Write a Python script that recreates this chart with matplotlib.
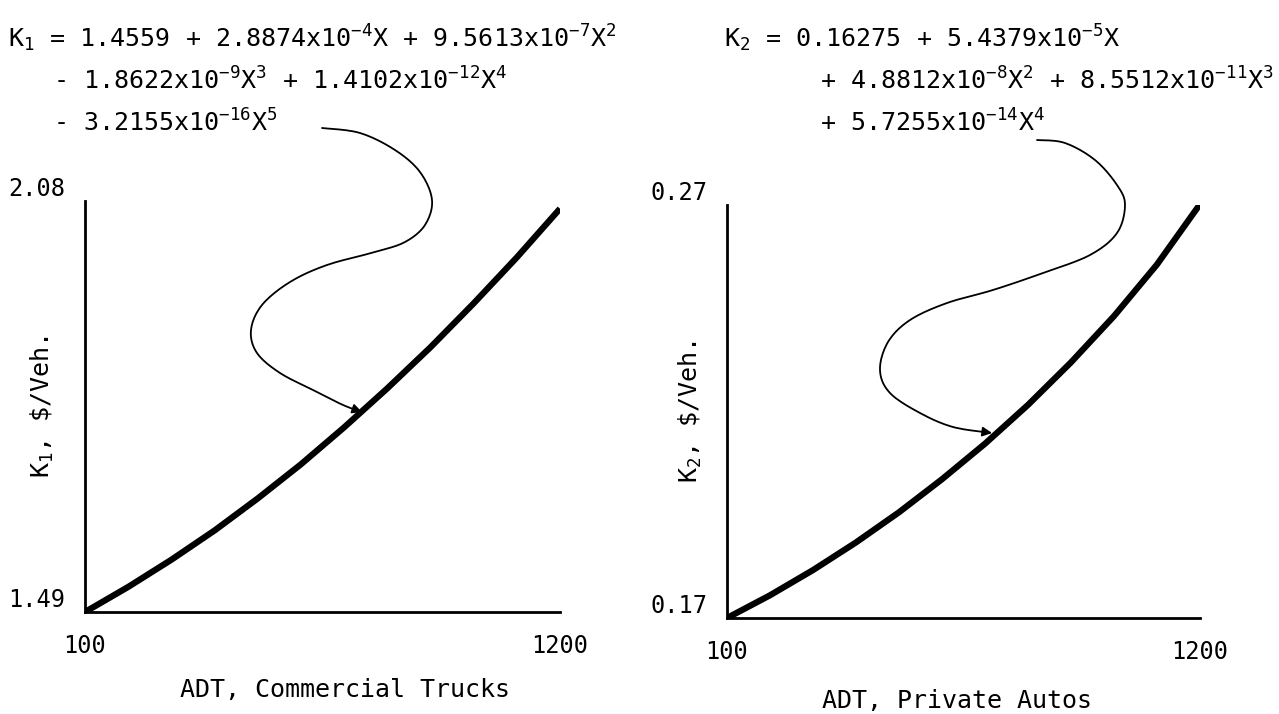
import numpy as np
import matplotlib
matplotlib.use("Agg")
import matplotlib.pyplot as plt
from matplotlib.patches import FancyArrowPatch
from matplotlib.path import Path

# values
adt_trucks = [100, 200, 300, 400, 500, 600, 700, 800, 900, 1000, 1100, 1200]
k1_values = [1.490, 1.526, 1.565, 1.607, 1.653, 1.702, 1.755, 1.811, 1.870, 1.933, 1.999, 2.069]

adt_autos = [100, 200, 300, 400, 500, 600, 700, 800, 900, 1000, 1100, 1200]
k2_values = [0.170, 0.1755, 0.1816, 0.1883, 0.1956, 0.2036, 0.2122, 0.2216, 0.2319, 0.2431, 0.2556, 0.2702]

k1_ticks = [1.49, 2.08]
k2_ticks = [0.17, 0.27]
adt_ticks = [100, 1200]

k1_eq = ["K$_1$ = 1.4559 + 2.8874x10$^{-4}$X + 9.5613x10$^{-7}$X$^2$",
         "- 1.8622x10$^{-9}$X$^3$ + 1.4102x10$^{-12}$X$^4$",
         "- 3.2155x10$^{-16}$X$^5$"]
k2_eq = ["K$_2$ = 0.16275 + 5.4379x10$^{-5}$X",
         "+ 4.8812x10$^{-8}$X$^2$ + 8.5512x10$^{-11}$X$^3$",
         "+ 5.7255x10$^{-14}$X$^4$"]

W, H = 1279, 714
plt.rcParams['font.family'] = 'DejaVu Sans Mono'
plt.rcParams['mathtext.fontset'] = 'custom'
plt.rcParams['mathtext.rm'] = 'DejaVu Sans Mono'
plt.rcParams['mathtext.it'] = 'DejaVu Sans Mono'
plt.rcParams['mathtext.bf'] = 'DejaVu Sans Mono'

fig = plt.figure(figsize=(W / 100, H / 100), dpi=100)


def px(x, y):
    # pixel position (top-left origin) -> figure fraction
    return x / W, 1 - y / H


def smooth(points, n=12):
    # Catmull-Rom through the hand-drawn leader points
    p = np.array(points, dtype=float)
    p = np.vstack([p[0], p, p[-1]])
    out = []
    for i in range(1, len(p) - 2):
        p0, p1, p2, p3 = p[i - 1], p[i], p[i + 1], p[i + 2]
        for t in np.linspace(0, 1, n, endpoint=False):
            out.append(0.5 * (2 * p1 + (-p0 + p2) * t
                              + (2 * p0 - 5 * p1 + 4 * p2 - p3) * t ** 2
                              + (-p0 + 3 * p1 - 3 * p2 + p3) * t ** 3))
    out.append(p[-2])
    return [px(x, y) for x, y in out]


def panel(rect, xs, ys, yticks, ylabel, xlabel, ylab_x, xlab_x, xlab_y):
    ax = fig.add_axes(rect)
    ax.plot(xs, ys, color='black', lw=4.5, solid_capstyle='butt',
            solid_joinstyle='round')
    ax.set_xlim(adt_ticks[0], adt_ticks[-1])
    ax.set_ylim(yticks[0], yticks[-1])
    for s in ['top', 'right']:
        ax.spines[s].set_visible(False)
    for s in ['left', 'bottom']:
        ax.spines[s].set_linewidth(2.0)
    ax.set_xticks(adt_ticks)
    ax.set_xticklabels([str(t) for t in adt_ticks], fontsize=17)
    ax.set_yticks(yticks)
    ax.set_yticklabels(['%.2f' % t for t in yticks], fontsize=17)
    ax.tick_params(axis='both', length=0)
    ax.tick_params(axis='x', pad=16)
    ax.tick_params(axis='y', pad=14)
    for lbl in ax.get_yticklabels():
        lbl.set_va('bottom')
    ax.set_ylabel(ylabel, fontsize=18)
    ax.yaxis.set_label_coords(ylab_x, 0.5)
    ax.set_xlabel(xlabel, fontsize=18)
    ax.xaxis.label.set_va('center')
    ax.xaxis.set_label_coords(xlab_x, xlab_y)
    ax.patch.set_alpha(0)
    return ax


panel([85 / W, 1 - 612 / H, 475 / W, 411 / H], adt_trucks, k1_values, k1_ticks,
      'K$_1$, \\$/Veh.', 'ADT, Commercial Trucks', -0.062, 0.547, -0.19)
panel([727 / W, 1 - 618 / H, 473 / W, 413 / H], adt_autos, k2_values, k2_ticks,
      'K$_2$, \\$/Veh.', 'ADT, Private Autos', -0.048, 0.486, -0.2)

# equations above each panel
for line, (x, y) in zip(k1_eq, [(8, 47), (53, 90), (53, 132)]):
    fig.text(*px(x, y), line, fontsize=18, va='baseline', ha='left')
for line, (x, y) in zip(k2_eq, [(724, 47), (820, 90), (820, 132)]):
    fig.text(*px(x, y), line, fontsize=18, va='baseline', ha='left')

# curly leaders from the equations to the curves
left_leader = [(322, 128), (360, 133), (395, 150), (420, 172), (432, 200), (425, 225),
               (405, 242), (375, 252), (327, 265), (290, 282), (262, 305), (251, 330),
               (257, 353), (280, 373), (313, 390), (343, 405), (362, 412)]
right_leader = [(1037, 140), (1065, 143), (1095, 160), (1117, 185), (1125, 205),
                (1117, 233), (1090, 255), (1043, 273), (993, 290), (947, 303),
                (910, 320), (888, 342), (880, 370), (890, 393), (920, 413),
                (953, 427), (992, 433)]
for pts in [left_leader, right_leader]:
    arrow = FancyArrowPatch(path=Path(smooth(pts)), arrowstyle='-|>',
                            mutation_scale=14, lw=1.3, color='black',
                            transform=fig.transFigure)
    fig.add_artist(arrow)

fig.savefig('out.png', dpi=100, facecolor='white')
